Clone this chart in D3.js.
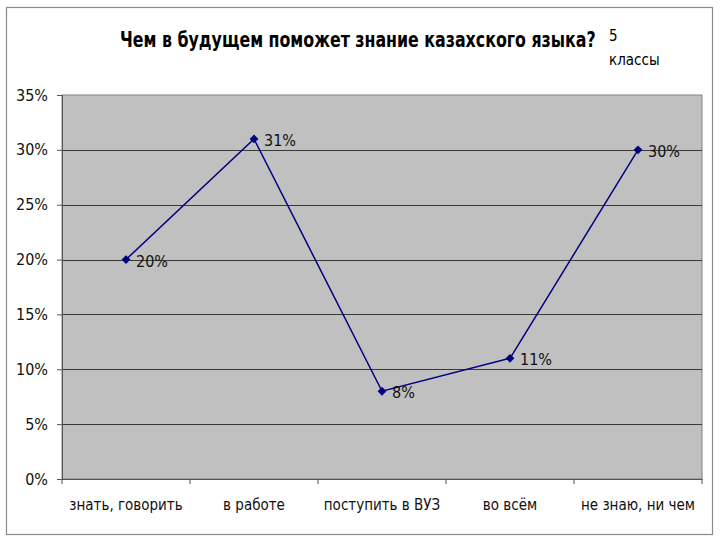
<!DOCTYPE html>
<html><head><meta charset="utf-8">
<script src="https://cdn.jsdelivr.net/npm/d3@7"></script>
<style>
body{margin:0;background:#fff;}
svg{display:block;}
text{font-family:"DejaVu Sans Condensed","Liberation Sans Narrow",sans-serif;font-stretch:condensed;}
</style></head>
<body>
<svg id="c" width="720" height="540"></svg>
<script>
const categories = ["знать, говорить", "в работе", "поступить в ВУЗ", "во всём", "не знаю, ни чем"];
const values = [20, 31, 8, 11, 30];
const yTicks = [0, 5, 10, 15, 20, 25, 30, 35];
const title = "Чем в будущем поможет знание казахского языка?";
const subtitle = ["5", "классы"];

const svg = d3.select("#c");
const m = {left: 62, right: 702, top: 95, bottom: 479};

// outer frame
svg.append("rect").attr("x", 6.5).attr("y", 7.5).attr("width", 706).attr("height", 527)
  .attr("fill", "#fff").attr("stroke", "#8a8a8a").attr("stroke-width", 1.2);

const x = d3.scaleBand().domain(categories).range([m.left, m.right]);
const y = d3.scaleLinear().domain([0, 35]).range([m.bottom, m.top]);

// plot area
svg.append("rect").attr("x", m.left).attr("y", m.top)
  .attr("width", m.right - m.left).attr("height", m.bottom - m.top)
  .attr("fill", "#c0c0c0").attr("stroke", "#808080").attr("stroke-width", 1);

// gridlines
svg.append("g").selectAll("line").data(yTicks.filter(d => d > 0 && d < 35)).join("line")
  .attr("x1", m.left).attr("x2", m.right)
  .attr("y1", d => Math.round(y(d)) + 0.5).attr("y2", d => Math.round(y(d)) + 0.5)
  .attr("stroke", "#3a3a3a").attr("stroke-width", 1);

// y axis
const yAxis = d3.axisLeft(y).tickValues(yTicks).tickFormat(d => d + "%").tickSize(5).tickPadding(9);
const gy = svg.append("g").attr("transform", `translate(${m.left},0)`).call(yAxis);
gy.select(".domain").attr("stroke", "#555");
gy.selectAll(".tick line").attr("stroke", "#555");
gy.selectAll("text").attr("font-size", 16).attr("fill", "#111");

// x axis
const xAxis = d3.axisBottom(x).tickSize(0).tickPadding(20);
const gx = svg.append("g").attr("transform", `translate(0,${m.bottom})`).call(xAxis);
gx.select(".domain").attr("stroke", "#555");
gx.selectAll("text").attr("font-size", 15).attr("fill", "#111");
// boundary ticks
gx.append("g").selectAll("line").data(categories.concat(["_end"])).join("line")
  .attr("x1", (d, i) => i < categories.length ? x(d) : m.right)
  .attr("x2", (d, i) => i < categories.length ? x(d) : m.right)
  .attr("y1", 0).attr("y2", 5).attr("stroke", "#555");

// line
const cx = d => x(d) + x.bandwidth() / 2;
const line = d3.line().x((d, i) => cx(categories[i])).y(d => y(d));
svg.append("path").datum(values).attr("d", line)
  .attr("fill", "none").attr("stroke", "#000080").attr("stroke-width", 1.5);

// markers
svg.append("g").selectAll("path").data(values).join("path")
  .attr("d", d3.symbol().type(d3.symbolDiamond2).size(50))
  .attr("transform", (d, i) => `translate(${cx(categories[i])},${y(d)})`)
  .attr("fill", "#000080");

// data labels
svg.append("g").selectAll("text").data(values).join("text")
  .attr("x", (d, i) => cx(categories[i]) + 10)
  .attr("y", d => y(d) + 7)
  .attr("font-size", 16).attr("fill", "#111")
  .text(d => d + "%");

// title (horizontally condensed to mimic a narrow bold face)
const tt = svg.append("text").attr("x", 0).attr("y", 0)
  .attr("font-size", 21).attr("font-weight", "bold").attr("fill", "#000")
  .text(title);
const tw = tt.node().getComputedTextLength();
tt.attr("transform", `translate(120,47) scale(${476 / tw},1)`);

svg.append("text").attr("x", 609).attr("y", 41).attr("font-size", 15).attr("fill", "#000").text(subtitle[0]);
svg.append("text").attr("x", 609).attr("y", 65).attr("font-size", 15).attr("fill", "#000").text(subtitle[1]);
</script>
</body></html>
